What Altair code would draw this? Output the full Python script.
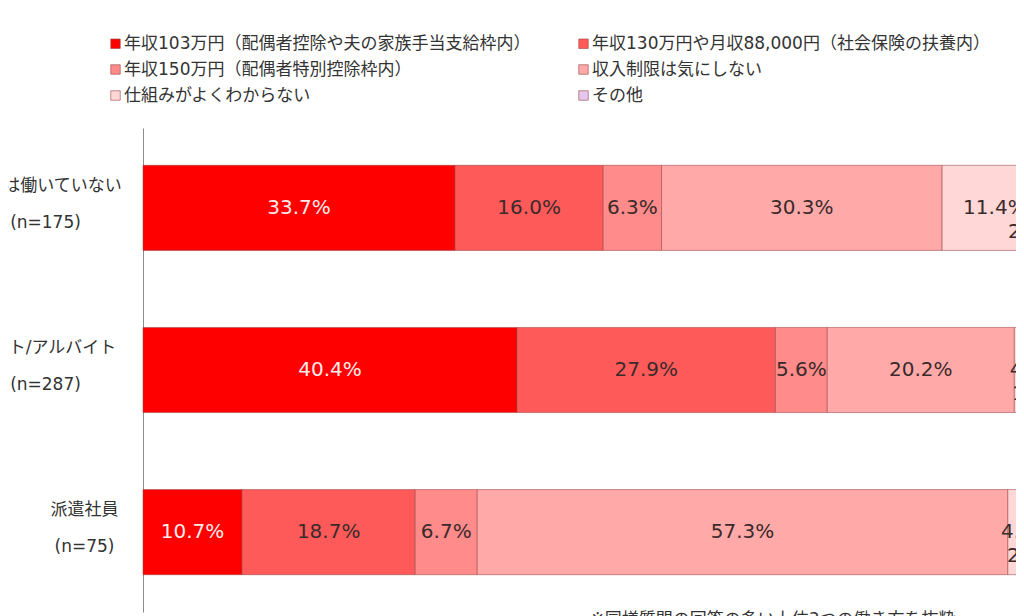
import json
import altair as alt
import pandas as pd

FONT = "DejaVu Sans, Noto Sans CJK JP, sans-serif"

title_text = "収入上限に関する希望：働き方別比較"
footnote_text = "※同様質問の回答の多い上位3つの働き方を抜粋"

categories = ["現在は働いていない", "パート/アルバイト", "派遣社員"]
sample_sizes = [175, 287, 75]

series = [
    "年収103万円（配偶者控除や夫の家族手当支給枠内）",
    "年収130万円や月収88,000円（社会保険の扶養内）",
    "年収150万円（配偶者特別控除枠内）",
    "収入制限は気にしない",
    "仕組みがよくわからない",
    "その他",
]
colors = ["#ff0000", "#ff5a5a", "#ff8b8b", "#ffa9a9", "#ffd7d7", "#e4c8ee"]

values_not_working = [33.7, 16.0, 6.3, 30.3, 11.4, 2.3]
values_part_time = [40.4, 27.9, 5.6, 20.2, 4.5, 1.4]
values_dispatch = [10.7, 18.7, 6.7, 57.3, 4.0, 2.7]

all_values = [values_not_working, values_part_time, values_dispatch]
labels = [f"{c}\n(n={n})" for c, n in zip(categories, sample_sizes)]

rows = []
for lab, vals in zip(labels, all_values):
    for i, (s, v) in enumerate(zip(series, vals)):
        rows.append({"label": lab, "series": s, "order": i, "value": v})
df = pd.DataFrame(rows)

short_label = json.dumps(labels[2], ensure_ascii=False)

y_scale = alt.Scale(paddingInner=0.475, paddingOuter=0.23)


def y_axis(expr, padding, show_domain):
    return alt.Axis(
        title=None,
        orient="left",
        labelExpr=expr,
        labelAlign="center",
        labelBaseline="middle",
        labelPadding=padding,
        tickSize=0,
        ticks=False,
        domain=show_domain,
        domainColor="#8c8c8c",
        domainWidth=1,
        grid=False,
        labelFont=FONT,
        labelFontSize=17,
        labelColor="#333333",
        labelLineHeight=37,
        labelOffset=-22,
        labelLimit=600,
        labelOverlap=False,
        offset=0,
    )


axis_long = y_axis(f"datum.value === {short_label} ? '' : split(datum.label, '\\n')", 98, True)
axis_short = y_axis(f"datum.value === {short_label} ? split(datum.label, '\\n') : ''", 59, False)

x_scale = alt.Scale(domain=[0, 94.28], nice=False, zero=True)
x_axis = alt.Axis(
    title=footnote_text,
    labels=False,
    ticks=False,
    domain=False,
    grid=False,
    titleFont=FONT,
    titleFontSize=17,
    titleFontWeight="normal",
    titleColor="#333333",
    titleAnchor="start",
    titleAlign="left",
    titleBaseline="top",
    titleX=447,
    titleY=-1,
)

base = (
    alt.Chart(df)
    .transform_stack(
        stack="value",
        groupby=["label"],
        as_=["x0", "x1"],
        sort=[alt.SortField(field="order", order="ascending")],
    )
    .transform_calculate(
        mid="(datum.x0 + datum.x1) / 2",
        txt="format(datum.value, '.1f') + '%'",
    )
)

bars = base.mark_bar(stroke="#9a4545", strokeWidth=1, strokeOpacity=0.55).encode(
    x=alt.X("x0:Q", scale=x_scale, axis=x_axis),
    x2="x1:Q",
    y=alt.Y("label:N", sort=labels, scale=y_scale, axis=axis_long),
    color=alt.Color(
        "series:N",
        scale=alt.Scale(domain=series, range=colors),
        legend=alt.Legend(
            title=None,
            orient="none",
            legendX=-36,
            legendY=-93,
            direction="horizontal",
            columns=2,
            columnPadding=44,
            rowPadding=8,
            labelFont=FONT,
            labelFontSize=17,
            labelColor="#333333",
            labelLimit=600,
            labelOffset=0,
            symbolType="square",
            symbolSize=90,
            symbolStrokeColor="#9a4545",
            symbolStrokeWidth=0.6,
        ),
    ),
)

main_labels = base.transform_filter("datum.order < 5").mark_text(
    font=FONT, fontSize=20, baseline="middle", align="center"
).encode(
    x=alt.X("mid:Q", scale=x_scale, axis=x_axis),
    y=alt.Y("label:N", sort=labels, scale=y_scale, axis=axis_short),
    text="txt:N",
    color=alt.condition("datum.order == 0", alt.value("#ffecec"), alt.value("#3a2a2a")),
)

other_labels = base.transform_filter("datum.order == 5").mark_text(
    font=FONT, fontSize=20, baseline="middle", align="center", dx=-25, dy=24
).encode(
    x=alt.X("mid:Q", scale=x_scale, axis=x_axis),
    y=alt.Y("label:N", sort=labels, scale=y_scale, axis=None),
    text="txt:N",
    color=alt.value("#3a2a2a"),
)

chart = (
    alt.layer(bars, main_labels, other_labels)
    .resolve_axis(y="independent")
    .properties(
        width=873,
        height=484,
        autosize=alt.AutoSizeParams(type="none"),
        padding={"left": 135, "top": 120, "right": 0, "bottom": 4},
        title=alt.TitleParams(
            title_text,
            font=FONT,
            fontSize=20,
            fontWeight="bold",
            color="#222222",
            anchor="start",
            dx=255,
            offset=124,
        ),
        background="white",
    )
    .configure_view(stroke=None)
)

chart.save("out.html", embed_options={"renderer": "svg", "actions": False})
